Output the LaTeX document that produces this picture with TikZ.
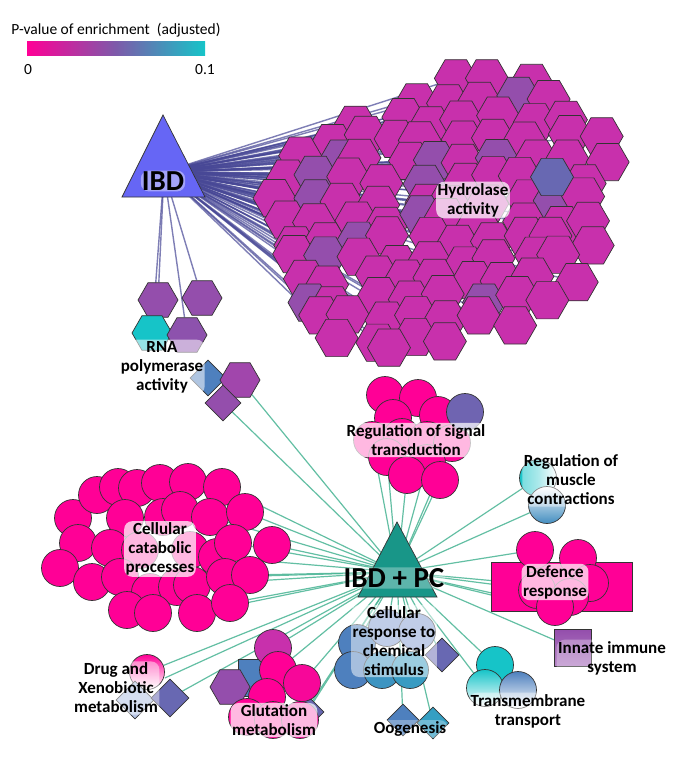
\documentclass[tikz,border=0pt]{standalone}
\usepackage{fontspec}
\setmainfont{Carlito}
\usetikzlibrary{shapes.geometric}
\pgfdeclarelayer{bg}
\pgfsetlayers{bg,main}
\definecolor{cpink}{RGB}{255,0,150}
\definecolor{chex}{RGB}{200,48,172}
\definecolor{cpurp}{RGB}{148,78,172}
\definecolor{cslate}{RGB}{104,104,178}
\definecolor{cteal}{RGB}{22,196,200}
\definecolor{cblue}{RGB}{78,128,190}
\definecolor{clblue}{RGB}{130,155,210}
\definecolor{ibdblue}{RGB}{102,102,245}
\definecolor{ibdteal}{RGB}{24,150,136}
\definecolor{eblue}{RGB}{72,72,150}
\definecolor{eteal}{RGB}{72,180,148}
\definecolor{barmid}{RGB}{125,90,170}
\tikzset{
 base/.style={draw=black!80, line width=0.7pt, inner sep=0pt},
 hexa/.style={base, regular polygon, regular polygon sides=6, minimum size=43pt},
 circ/.style={base, circle, minimum size=37pt},
 dia/.style={base, diamond, minimum width=36pt, minimum height=36pt},
 sqr/.style={base, rectangle, minimum size=37pt},
 lbl/.style={font=\bfseries\fontsize{17}{19}\selectfont, align=center, fill=white, fill opacity=0.72, text opacity=1, rounded corners=8pt, inner sep=1.5pt},
 big/.style={font=\bfseries\fontsize{29}{32}\selectfont, fill=white, fill opacity=0.4, text opacity=1, rounded corners=8pt, inner sep=1pt},
 eibd/.style={draw=eblue, line width=1.4pt, opacity=0.7},
 epc/.style={draw=eteal, line width=1.2pt, opacity=0.85},
}
\begin{document}
\begin{tikzpicture}[x=1pt,y=-1pt]
\useasboundingbox (0,0) rectangle (672,768);
\begin{pgfonlayer}{bg}
\fill[white] (0,0) rectangle (672,768);
\end{pgfonlayer}
% legend
\node[font=\fontsize{15.5}{17}\selectfont] (lt) at (116,30) {P-value of enrichment\ \ (adjusted)};
\node[minimum width=178pt, minimum height=14pt, inner sep=0pt, left color=cpink, right color=cteal, middle color=barmid] (bar) at (116,49) {};
\node[font=\fontsize{15.5}{17}\selectfont] (l0) at (28,70) {0};
\node[font=\fontsize{15.5}{17}\selectfont] (l1) at (205,70) {0.1};
% hubs
\coordinate (ibd) at (164,172);
\coordinate (pc) at (397,572);
\draw[fill=ibdblue, draw=black!80, line width=0.7pt] (163,115) -- (205,197) -- (122,197) -- cycle;
\draw[fill=ibdteal, draw=black!80, line width=0.7pt] (397,522) -- (437,597) -- (358,597) -- cycle;
% hydrolase cluster
\pgfmathsetseed{7}
\foreach \yy/\xs/\n [count=\r] in {77/457/3, 100/410/5, 120/362/7, 140/325/9, 160/300/10, 180/287/10, 200/282/10, 220/282/10, 240/287/10, 260/292/9, 280/300/9, 300/305/8, 320/315/7, 338/345/4, 352/397/1}{
  \foreach \i in {1,...,\n}{
    \pgfmathsetmacro\hx{\xs+(\i-1)*34+9*rand}
    \pgfmathsetmacro\hy{\yy+6*rand}
    \pgfmathtruncatemacro\pcol{rnd<0.12 ? 1 : 0}
    \ifnum\pcol=1 \def\hcol{cpurp}\else\def\hcol{chex}\fi
    \node[hexa, fill=\hcol] (h\r-\i) at (\hx,\hy) {};
    \begin{pgfonlayer}{bg}\draw[eibd] (ibd) -- (h\r-\i);\end{pgfonlayer}
  }
}
\node[hexa, fill=cslate] (hs) at (552,177) {};
\node[lbl] (hl) at (473,200) {Hydrolase\\activity};
% RNA polymerase
\node[hexa, fill=cpurp, minimum size=40pt] (r1) at (158,300) {};
\node[hexa, fill=cpurp, minimum size=40pt] (r2) at (202,298) {};
\node[hexa, fill=cteal, minimum size=40pt] (r3) at (152,333) {};
\node[hexa, fill=cpurp!85!cslate, minimum size=40pt] (r4) at (187,335) {};
\node[dia, fill=cblue] (r5) at (208,378) {};
\node[hexa, fill=cpurp!75!chex, minimum size=40pt] (r6) at (240,380) {};
\node[dia, fill=cpurp] (r7) at (223,403) {};
\node[lbl, fill opacity=0.55] (rl) at (162,367) {RNA\\polymerase\\activity};
\begin{pgfonlayer}{bg}
\foreach \t in {r1,r3,r4,r2} \draw[eibd] (ibd) -- (\t);
\foreach \t in {r6,r7} \draw[epc] (pc) -- (\t);
\end{pgfonlayer}
% cellular catabolic processes
\foreach \p [count=\k] in {(73,518),(97,495),(118,487),(137,488),(160,483),(188,482),(222,487),(125,518),(163,517),(180,510),(210,517),(245,512),(78,543),(110,548),(140,550),(190,550),(217,557),(233,543),(272,545),(60,568),(92,582),(120,577),(150,592),(177,587),(192,585),(225,577),(250,575),(127,610),(153,613),(197,613),(230,603)}
  \node[circ, fill=cpink] (k\k) at \p {};
\node[lbl] (kl) at (160,549) {Cellular\\catabolic\\processes};
\begin{pgfonlayer}{bg}
\foreach \t in {k7,k12,k11,k18,k19,k17,k27,k26,k25,k31,k30} \draw[epc] (pc) -- (\t);
\end{pgfonlayer}
% regulation of signal transduction
\foreach \p [count=\k] in {(385,395),(418,398),(393,418),(438,415),(372,440),(402,437),(427,440),(452,443),(387,457),(427,463),(407,475),(440,480)}
  \node[circ, fill=cpink] (s\k) at \p {};
\node[circ, fill=cslate!85!cpurp] (s13) at (465,412) {};
\node[lbl] (sl) at (416,440) {Regulation of signal\\transduction};
\begin{pgfonlayer}{bg}
\foreach \t in {s5,s9,s10,s11,s12,s8} \draw[epc] (pc) -- (\t);
\end{pgfonlayer}
% regulation of muscle contractions
\node[circ, left color=cteal, right color=white, middle color=cteal!60!white] (m1) at (538,478) {};
\node[circ, top color=white, bottom color=cblue!80!cteal] (m2) at (547,505) {};
\node[lbl, fill opacity=0.4] (ml) at (571,480) {Regulation of\\muscle\\contractions};
\begin{pgfonlayer}{bg}
\foreach \t in {m1,m2} \draw[epc] (pc) -- (\t);
\end{pgfonlayer}
% defence response
\node[sqr, fill=cpink, minimum width=141pt, minimum height=49pt] (dr) at (562,587) {};
\foreach \p [count=\k] in {(535,550),(578,558),(590,583),(537,590),(570,597),(555,607)}
  \node[circ, fill=cpink] (d\k) at \p {};
\node[lbl] (dl) at (555,582) {Defence\\response};
\begin{pgfonlayer}{bg}
\foreach \t in {d1,dr,d4,d6} \draw[epc] (pc) -- (\t);
\draw[epc] (pc) -- ([yshift=-8pt]dr.west);
\end{pgfonlayer}
% innate immune system
\node[sqr, top color=cpurp, bottom color=cpurp!70!white] (in) at (573,648) {};
\node[lbl, fill opacity=0.3] (il) at (612,658) {Innate immune\\system};
\begin{pgfonlayer}{bg}
\draw[epc] (pc) -- (in);
\end{pgfonlayer}
% transmembrane transport
\node[circ, fill=cteal] (t1) at (495,665) {};
\node[circ, top color=cteal, bottom color=white] (t2) at (485,688) {};
\node[circ, top color=cblue, bottom color=white] (t3) at (518,690) {};
\node[lbl, fill opacity=0.4] (tl) at (528,711) {Transmembrane\\transport};
\begin{pgfonlayer}{bg}
\foreach \t in {t1,t2} \draw[epc] (pc) -- (\t);
\end{pgfonlayer}
% cellular response to chemical stimulus
\node[dia, fill=cslate, minimum width=34pt, minimum height=34pt] (q7) at (442,655) {};
\node[circ, fill=cblue] (q1) at (357,643) {};
\node[circ, fill=clblue] (q2) at (387,628) {};
\node[circ, fill=clblue] (q3) at (417,632) {};
\node[circ, fill=cblue] (q4) at (353,670) {};
\node[circ, fill=cblue!70!cteal] (q5) at (382,670) {};
\node[circ, fill=cblue!60!cteal] (q6) at (410,670) {};
\node[lbl, fill opacity=0.5] (ql) at (394,641) {Cellular\\response to\\chemical\\stimulus};
% oogenesis
\node[dia, fill=cblue, minimum width=32pt, minimum height=32pt] (o1) at (403,720) {};
\node[dia, fill=cblue!55!cteal, minimum width=32pt, minimum height=32pt] (o2) at (433,723) {};
\node[lbl, fill opacity=0.3] (ol) at (410,729) {Oogenesis};
\begin{pgfonlayer}{bg}
\foreach \t in {q1,q2,q3,q7,o1,o2} \draw[epc] (pc) -- (\t);
\end{pgfonlayer}
% glutation metabolism
\node[dia, fill=cslate, minimum width=34pt, minimum height=34pt] (g8) at (307,712) {};
\node[sqr, fill=cblue] (g0) at (257,678) {};
\node[hexa, fill=cpurp, minimum size=40pt] (g9) at (230,687) {};
\foreach \p/\c [count=\k] in {(273,648)/chex,(278,670)/cpink,(302,683)/cpink!85!chex,(267,697)/cpink,(247,717)/cpink,(273,720)/cpink,(300,720)/cpink!85!chex}
  \node[circ, fill=\c] (g\k) at \p {};
\node[lbl] (gl) at (274,720) {Glutation\\metabolism};
\begin{pgfonlayer}{bg}
\foreach \t in {g1,g2,g3,g8,g7} \draw[epc] (pc) -- (\t);
\end{pgfonlayer}
% drug and xenobiotic metabolism
\node[circ, top color=cpink, bottom color=white, minimum size=35pt] (x1) at (147,672) {};
\node[dia, fill=clblue!60!white, minimum width=38pt, minimum height=38pt] (x2) at (135,700) {};
\node[dia, fill=cslate, minimum width=38pt, minimum height=38pt] (x3) at (170,698) {};
\node[lbl, fill opacity=0.45] (xl) at (116,688) {Drug and\\Xenobiotic\\metabolism};
\begin{pgfonlayer}{bg}
\foreach \t in {x1,x3} \draw[epc] (pc) -- (\t);
\draw[epc] (pc) -- ([yshift=-6pt]x1.east);
\end{pgfonlayer}
% hub labels
\node[big] (ibdl) at (163,181) {IBD};
\node[big, fill opacity=0.3] (pcl) at (394,578) {IBD + PC};
\end{tikzpicture}
\end{document}
